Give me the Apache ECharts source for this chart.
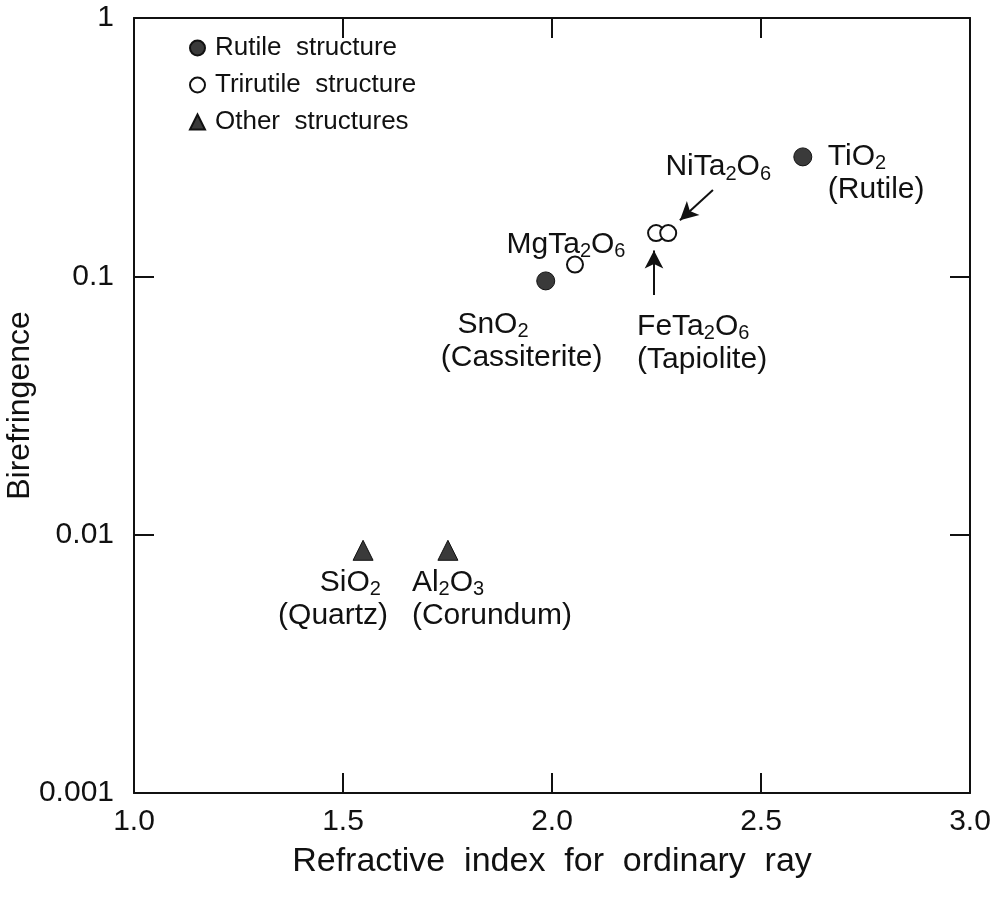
<!DOCTYPE html>
<html>
<head>
<meta charset="utf-8">
<script src="https://cdn.jsdelivr.net/npm/echarts@6/dist/echarts.min.js"></script>
<style>
html,body{margin:0;padding:0;background:#fff;}
#chart{width:1000px;height:909px;}
</style>
</head>
<body>
<div id="chart"></div>
<script>
// ---- data ----
const xTicks = [1.0, 1.5, 2.0, 2.5, 3.0];
const yTicks = [0.001, 0.01, 0.1, 1];
const seriesNames = ['Rutile structure', 'Trirutile structure', 'Other structures'];

const rutileNames = ['SnO2', 'TiO2'];
const rutileX = [1.985, 2.60];
const rutileY = [0.096, 0.29];

const trirutileNames = ['MgTa2O6', 'FeTa2O6', 'NiTa2O6'];
const trirutileX = [2.055, 2.249, 2.278];
const trirutileY = [0.111, 0.147, 0.147];

const otherNames = ['SiO2', 'Al2O3'];
const otherX = [1.548, 1.751];
const otherY = [0.0087, 0.0087];

const labelTexts = {
  'SnO2': '  SnO{s|2}\n(Cassiterite)',
  'TiO2': 'TiO{s|2}\n(Rutile)',
  'MgTa2O6': 'MgTa{s|2}O{s|6}',
  'FeTa2O6': 'FeTa{s|2}O{s|6}\n(Tapiolite)',
  'NiTa2O6': 'NiTa{s|2}O{s|6}',
  'SiO2': '     SiO{s|2}\n(Quartz)',
  'Al2O3': 'Al{s|2}O{s|3}\n(Corundum)'
};

// arrows: start -> head
const arrowStartX = [2.385, 2.244];
const arrowStartY = [0.216, 0.0847];
const arrowEndX = [2.306, 2.244];
const arrowEndY = [0.165, 0.126];

// ---- layout / style (not data) ----
const labelLayout = {
  'SnO2':   {align: 'left',   offset: [-105, 60]},
  'TiO2':   {align: 'left',   offset: [25, 16]},
  'MgTa2O6':{align: 'center', offset: [-9, -20]},
  'FeTa2O6':{align: 'left',   offset: [-19, 110]},
  'NiTa2O6':{align: 'center', offset: [50, -66]},
  'SiO2':   {align: 'left',   offset: [-85, 49]},
  'Al2O3':  {align: 'left',   offset: [-36, 49]}
};

const FONT = "'Liberation Sans', Arial, Helvetica, sans-serif";
const INK = '#111';

function pts(names, xs, ys) {
  return names.map((n, i) => {
    const lay = labelLayout[n];
    return {
      name: n,
      value: [xs[i], ys[i]],
      label: {
        show: true,
        position: 'inside',
        align: lay.align,
        verticalAlign: 'middle',
        offset: lay.offset,
        formatter: labelTexts[n],
        color: INK,
        fontFamily: FONT,
        fontSize: 30,
        lineHeight: 33,
        rich: {
          s: {fontSize: 20, fontFamily: FONT, color: INK, padding: [14, 0, 0, 0], lineHeight: 33}
        }
      }
    };
  });
}

const chart = echarts.init(document.getElementById('chart'), null, {renderer: 'canvas'});

const axisLine = {show: true, lineStyle: {color: INK, width: 2}};
const axisTick = {show: true, inside: true, length: 20, lineStyle: {color: INK, width: 2}};

chart.setOption({
  animation: false,
  backgroundColor: '#fff',
  grid: {left: 134, right: 30, top: 18, bottom: 116, containLabel: false, outerBoundsMode: 'none'},
  legend: {
    orient: 'vertical',
    left: 184,
    top: 30,
    itemGap: 11,
    itemWidth: 15,
    itemHeight: 15,
    formatter: n => n.replace(' ', '  '),
    textStyle: {fontFamily: FONT, fontSize: 26, color: INK, padding: [0, 0, 0, 5]},
    data: [
      {name: seriesNames[0], icon: 'circle'},
      {name: seriesNames[1], icon: 'circle'},
      {name: seriesNames[2], icon: 'triangle'}
    ]
  },
  xAxis: [{
    type: 'value', min: 1, max: 3, interval: 0.5, position: 'bottom',
    name: 'Refractive  index  for  ordinary  ray', nameLocation: 'middle', nameGap: 52,
    nameMoveOverlap: false,
    nameTextStyle: {fontFamily: FONT, fontSize: 34, color: INK},
    axisLine: axisLine, axisTick: axisTick, splitLine: {show: false},
    axisLabel: {fontFamily: FONT, fontSize: 30, color: INK, margin: 14,
      formatter: v => xTicks.includes(v) ? v.toFixed(1) : ''}
  }, {
    type: 'value', min: 1, max: 3, interval: 0.5, position: 'top',
    axisLine: axisLine, axisTick: axisTick, splitLine: {show: false}, axisLabel: {show: false}
  }],
  yAxis: [{
    type: 'log', logBase: 10, min: 0.001, max: 1, position: 'left',
    name: 'Birefringence', nameLocation: 'middle', nameGap: 98, nameRotate: 90,
    nameMoveOverlap: false,
    nameTextStyle: {fontFamily: FONT, fontSize: 32, color: INK},
    axisLine: axisLine, axisTick: axisTick, splitLine: {show: false}, minorTick: {show: false},
    axisLabel: {fontFamily: FONT, fontSize: 30, color: INK, margin: 20,
      formatter: v => {
        const t = yTicks.find(k => Math.abs(k - v) / k < 1e-6);
        return t === undefined ? '' : String(t);
      }}
  }, {
    type: 'log', logBase: 10, min: 0.001, max: 1, position: 'right',
    axisLine: axisLine, axisTick: axisTick, splitLine: {show: false}, axisLabel: {show: false}
  }],
  series: [{
    name: seriesNames[0], type: 'scatter', symbol: 'circle', symbolSize: 18,
    itemStyle: {color: '#3a3a3a', borderColor: INK, borderWidth: 1, opacity: 1},
    data: pts(rutileNames, rutileX, rutileY)
  }, {
    name: seriesNames[1], type: 'scatter', symbol: 'circle', symbolSize: 16,
    itemStyle: {color: '#fff', borderColor: INK, borderWidth: 2, opacity: 1},
    data: pts(trirutileNames, trirutileX, trirutileY),
    markLine: {
      silent: true, animation: false,
      symbol: ['none', 'arrow'], symbolSize: [14, 18],
      lineStyle: {color: INK, width: 2, type: 'solid'},
      label: {show: false},
      data: arrowStartX.map((x, i) => [
        {coord: [x, arrowStartY[i]]},
        {coord: [arrowEndX[i], arrowEndY[i]]}
      ])
    }
  }, {
    name: seriesNames[2], type: 'scatter', symbol: 'triangle', symbolSize: 20,
    itemStyle: {color: '#3a3a3a', borderColor: INK, borderWidth: 1, opacity: 1},
    data: pts(otherNames, otherX, otherY)
  }]
});
</script>
</body>
</html>
